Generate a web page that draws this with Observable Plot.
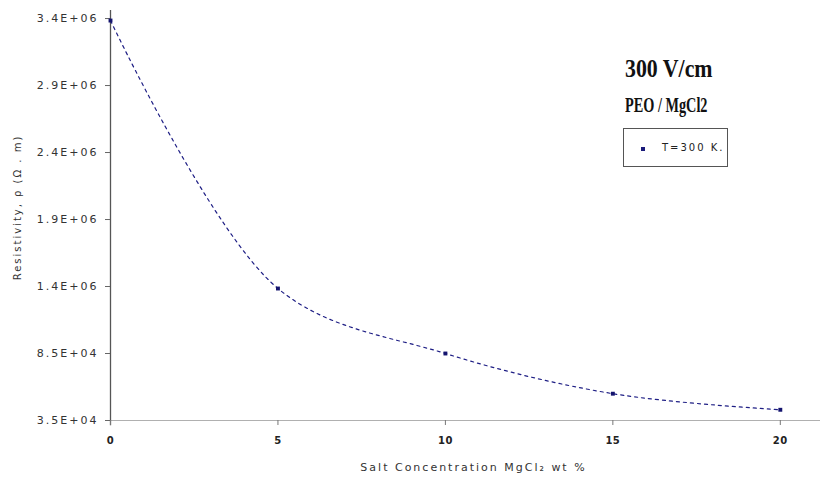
<!DOCTYPE html>
<html>
<head>
<meta charset="utf-8">
<script src="https://cdn.jsdelivr.net/npm/d3@7"></script>
<script src="https://cdn.jsdelivr.net/npm/@observablehq/plot@0.6"></script>
<style>
  body { margin: 0; background: #fff; }
  #wrap { position: relative; width: 822px; height: 478px; }
  .ann { position: absolute; font-family: "Liberation Serif", serif; font-weight: bold; color: #111; white-space: nowrap; line-height: 1; transform-origin: left top; }
  #legend { position: absolute; left: 623px; top: 128px; width: 105px; height: 39px; border: 1px solid #555; box-sizing: border-box;
            font-family: "DejaVu Sans", sans-serif; font-size: 10px; line-height: 10px; color: #222; letter-spacing: 2px; }
  #legend .dot { position: absolute; left: 17px; top: 18px; width: 4px; height: 4px; background: #1a1a7a; }
  #legend .lab { position: absolute; left: 38px; top: 14px; }
  #chart svg g[aria-label="y-axis tick label"] { letter-spacing: 2px; }
  #chart svg g[aria-label="x-axis tick label"] { letter-spacing: 0.5px; }
  #chart svg g[aria-label="text"] { letter-spacing: 2px; }
</style>
</head>
<body>
<div id="wrap">
  <div id="chart"></div>
  <div class="ann" style="left:625px; top:56px; font-size:26px; transform:scaleX(0.84);">300 V/cm</div>
  <div class="ann" style="left:625px; top:95px; font-size:21px; transform:scaleX(0.68);">PEO / MgCl2</div>
  <div id="legend"><div class="dot"></div><div class="lab">T=300 K.</div></div>
</div>
<script>
// Data
const concentration = [0, 5, 10, 15, 20];                      // Salt concentration MgCl2 wt %
const resistivity = [3.385e6, 1.385e6, 0.9e6, 0.6e6, 0.48e6]; // Resistivity (Ω·m)
const xTicks = [0, 5, 10, 15, 20];
const yTickValues = [3.4e6, 2.9e6, 2.4e6, 1.9e6, 1.4e6, 0.9e6, 0.4e6];
const yTickLabels = ["3.4E+06", "2.9E+06", "2.4E+06", "1.9E+06", "1.4E+06", "8.5E+04", "3.5E+04"];

const data = concentration.map((c, i) => ({x: c, y: resistivity[i]}));
const labelOf = new Map(yTickValues.map((v, i) => [v, yTickLabels[i]]));

const chart = Plot.plot({
  width: 822,
  height: 478,
  marginLeft: 110,
  marginRight: 2,
  marginTop: 10,
  marginBottom: 58,
  style: {fontFamily: "DejaVu Sans, sans-serif", fontSize: "10px", color: "#222", background: "#fff"},
  x: {domain: [0, 21.2], label: null},
  y: {domain: [0.4e6, 3.46e6], label: null},
  marks: [
    Plot.ruleY([0.4e6], {stroke: "#b0b0b0", strokeWidth: 1.2}),
    Plot.ruleX([0], {y1: 0.36e6, y2: 3.46e6, stroke: "#555", strokeWidth: 1.3}),
    Plot.axisX({ticks: xTicks, tickSize: 5, tickPadding: 11, stroke: "#777", fill: "#222", tickFormat: d => String(d), fontSize: 10, fontWeight: "bold", label: null}),
    Plot.axisY({ticks: yTickValues, tickSize: 5, tickPadding: 7, stroke: "#666", fill: "#333", tickFormat: d => labelOf.get(d), fontSize: 11, label: null}),
    Plot.line(data, {x: "x", y: "y", curve: "catmull-rom", stroke: "#1f1f85", strokeWidth: 1.2, strokeDasharray: "3,4"}),
    Plot.dot(data, {x: "x", y: "y", symbol: "square", r: 2.2, fill: "#14146e"}),
    Plot.text(["Salt Concentration MgCl\u2082 wt %"], {frameAnchor: "bottom", dy: 50, dx: 8, fontSize: 11, fill: "#333"}),
    Plot.text(["Resistivity, \u03c1 (\u03a9 . m)"], {frameAnchor: "left", dx: -93, dy: -8, rotate: -90, textAnchor: "middle", fontSize: 10, fill: "#333"})
  ]
});
document.getElementById("chart").appendChild(chart);
</script>
</body>
</html>
